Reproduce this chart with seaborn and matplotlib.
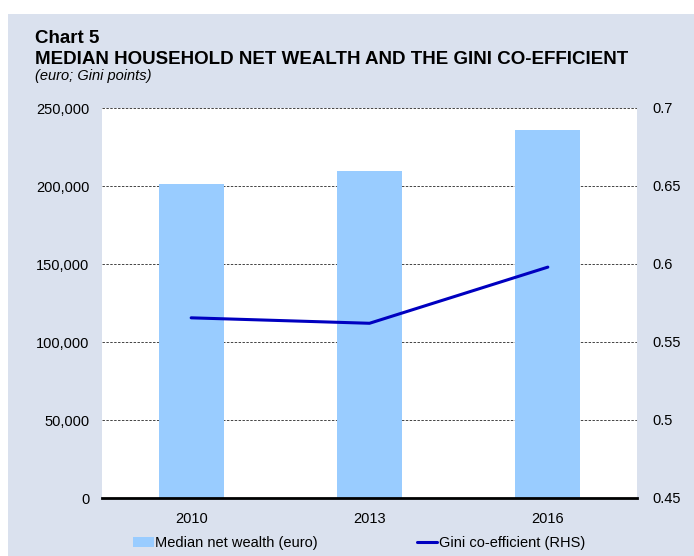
import numpy as np
import pandas as pd
import matplotlib
matplotlib.use("Agg")
import matplotlib.pyplot as plt
from matplotlib.patches import Patch, Rectangle
from matplotlib.lines import Line2D
import seaborn as sns

years = ["2010", "2013", "2016"]
median_wealth = [201000, 209600, 236000]
gini = [0.5655, 0.562, 0.598]
left_ticks = [0, 50000, 100000, 150000, 200000, 250000]
right_ticks = [0.45, 0.5, 0.55, 0.6, 0.65, 0.7]
right_labels = ["0.45", "0.5", "0.55", "0.6", "0.65", "0.7"]

sns.set_style("white")
plt.rcParams["font.family"] = ["Liberation Sans", "DejaVu Sans"]
plt.rcParams["text.color"] = "black"

BG = "#DAE1EE"
BAR = "#99CCFF"
LINE = "#0000C0"

W, H = 694, 556
fig = plt.figure(figsize=(W / 100, H / 100), dpi=100, facecolor="white")
fig.patches.append(Rectangle((8 / W, 0), 1 - 8 / W, 1 - 14 / H, transform=fig.transFigure,
                             facecolor=BG, edgecolor="none", zorder=-5))

ax = fig.add_axes([102 / W, (H - 498) / H, 535 / W, 390 / H])
ax.set_zorder(1)
ax.set_facecolor("white")

df = pd.DataFrame({"year": years, "wealth": median_wealth, "gini": gini})
sns.barplot(data=df, x="year", y="wealth", color=BAR, width=0.365, ax=ax,
            saturation=1, edgecolor="none", zorder=2)
ax.set_xlim(-0.5, len(years) - 0.5)
ax.set_ylim(0, 250000)
ax.set_yticks(left_ticks)
ax.set_yticklabels([f"{v:,}" for v in left_ticks])
ax.yaxis.grid(True, color="#444444", linestyle=(0, (2.5, 1.5)), linewidth=0.7, zorder=1)
ax.set_axisbelow(True)
ax.set_xlabel("")
ax.set_ylabel("")
for s in ["left", "right", "top"]:
    ax.spines[s].set_visible(False)
ax.spines["bottom"].set_color("black")
ax.spines["bottom"].set_linewidth(2)
ax.spines["bottom"].set_zorder(5)
ax.tick_params(axis="both", length=0, labelsize=10.5, colors="black")
ax.tick_params(axis="y", pad=9)
ax.tick_params(axis="x", pad=10)

ax2 = ax.twinx()
sns.lineplot(x=np.arange(len(years)), y=df["gini"].values, color=LINE, linewidth=2.2, ax=ax2)
ax2.set_ylim(0.45, 0.7)
ax2.set_yticks(right_ticks)
ax2.set_yticklabels(right_labels)
ax2.tick_params(axis="y", length=0, labelsize=10.5, pad=11, colors="black")
for s in ["left", "right", "top", "bottom"]:
    ax2.spines[s].set_visible(False)
ax2.set_ylabel("")

fig.text(35 / W, 1 - 43 / H, "Chart 5", fontsize=13.5, fontweight="bold", va="baseline")
fig.text(35 / W, 1 - 64 / H, "MEDIAN HOUSEHOLD NET WEALTH AND THE GINI CO-EFFICIENT",
         fontsize=13.5, fontweight="bold", va="baseline")
fig.text(35 / W, 1 - 80 / H, "(euro; Gini points)", fontsize=10.5, style="italic", va="baseline")

handles = [Patch(facecolor=BAR, edgecolor="none"), Line2D([0], [0], color=LINE, lw=2.2)]
labels = ["Median net wealth (euro)", "Gini co-efficient (RHS)"]
fig.legend(handles, labels, loc="center left", bbox_to_anchor=(120 / W, 1 - 543 / H), ncol=2,
           frameon=False, fontsize=10.5, handlelength=1.4, handleheight=0.7, handletextpad=0.1,
           columnspacing=6.8)

fig.savefig("out.png", dpi=100, facecolor="white")
